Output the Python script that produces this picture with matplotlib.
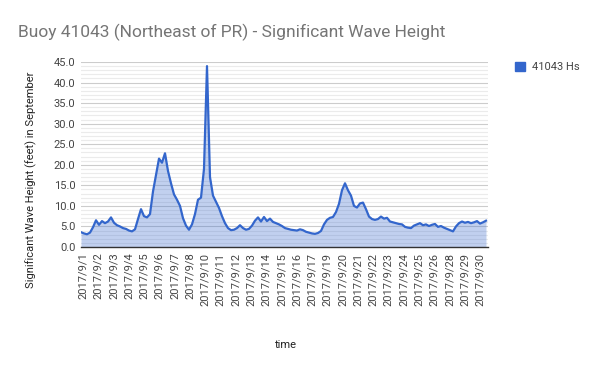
import numpy as np
import matplotlib
matplotlib.use("Agg")
import matplotlib.pyplot as plt
from matplotlib.patches import Patch

# Significant wave height readings (feet), evenly spaced samples through September
wave_height = [
    3.6, 3.3, 3.1, 3.5, 4.8, 6.5, 5.4, 6.3, 5.8, 6.2,
    7.2, 5.9, 5.3, 5.0, 4.6, 4.4, 4.0, 3.8, 4.3, 6.8,
    9.2, 7.5, 7.2, 8.0, 13.5, 17.5, 21.5, 20.5, 22.8, 18.5,
    15.5, 12.8, 11.5, 10.0, 7.0, 5.2, 4.2, 5.5, 8.0, 11.5,
    12.0, 19.0, 44.0, 17.0, 12.5, 11.0, 9.5, 7.5, 5.8, 4.6,
    4.1, 4.2, 4.6, 5.3, 4.6, 4.2, 4.4, 5.2, 6.4, 7.2,
    6.2, 7.3, 6.3, 6.9, 6.1, 5.8, 5.5, 5.1, 4.6, 4.4,
    4.2, 4.1, 4.0, 4.3, 4.1, 3.7, 3.5, 3.3, 3.2, 3.4,
    3.9, 5.5, 6.6, 7.1, 7.3, 8.5, 10.5, 13.8, 15.5, 13.8,
    12.5, 10.0, 9.6, 10.6, 10.8, 9.2, 7.4, 6.8, 6.6, 6.8,
    7.4, 6.9, 7.1, 6.2, 6.0, 5.8, 5.6, 5.5, 4.9, 4.7,
    4.6, 5.2, 5.5, 5.8, 5.3, 5.5, 5.1, 5.4, 5.6, 4.9,
    5.1, 4.7, 4.4, 4.1, 3.8, 5.0, 5.8, 6.2, 5.9, 6.1,
    5.8, 6.0, 6.3, 5.7, 6.0, 6.4,
]

day_labels = [
    "2017/9/1", "2017/9/2", "2017/9/3", "2017/9/4", "2017/9/5", "2017/9/6",
    "2017/9/7", "2017/9/8", "2017/9/10", "2017/9/11", "2017/9/12", "2017/9/13",
    "2017/9/14", "2017/9/15", "2017/9/16", "2017/9/17", "2017/9/19", "2017/9/20",
    "2017/9/21", "2017/9/22", "2017/9/23", "2017/9/24", "2017/9/25", "2017/9/26",
    "2017/9/28", "2017/9/29", "2017/9/30",
]

LINE = "#3366cc"
FONT = "Roboto"

fig = plt.figure(figsize=(6, 3.71), dpi=100)
ax = fig.add_axes([81 / 600, 1 - 247 / 371, 407 / 600, 185 / 371])

x = np.arange(len(wave_height))
ax.fill_between(x, wave_height, 0, color=LINE, alpha=0.3, linewidth=0)
ax.plot(x, wave_height, color=LINE, linewidth=1.6)

ax.set_xlim(0, len(wave_height) - 0.33)
ax.set_ylim(0, 45)

# y grid: major every 5, minor every 1
ax.set_yticks(np.arange(0, 46, 5))
ax.set_yticks(np.arange(0, 46, 1), minor=True)
ax.set_yticklabels([f"{v:.1f}" for v in np.arange(0, 46, 5)],
                   fontsize=8, color="#444444", family=FONT)
ax.grid(axis="y", which="major", color="#cccccc", linewidth=0.8)
ax.grid(axis="y", which="minor", color="#ebebeb", linewidth=0.8)
ax.set_axisbelow(True)
ax.tick_params(axis="y", which="both", length=0, pad=4)

ticks = np.linspace(0.67, 133, len(day_labels))
ax.set_xticks(ticks)
ax.set_xticklabels(day_labels, rotation=90, fontsize=8, color="#444444", family=FONT)
ax.tick_params(axis="x", length=0, pad=4)

for s in ["top", "right", "left"]:
    ax.spines[s].set_visible(False)
ax.spines["bottom"].set_color("#333333")
ax.spines["bottom"].set_linewidth(1.0)

fig.text(18 / 600, 1 - 37 / 371, "Buoy 41043 (Northeast of PR) - Significant Wave Height",
         fontsize=12.5, color="#757575", family=FONT, va="baseline", ha="left")
fig.text(286 / 600, 1 - 345 / 371, "time", fontsize=8, color="#222222",
         family=FONT, ha="center", va="center")
fig.text(31 / 600, 1 - 180 / 371, "Significant Wave Height (feet) in September",
         fontsize=8, color="#222222", family=FONT, rotation=90,
         ha="center", va="center")

fig.legend(handles=[Patch(facecolor=LINE, edgecolor=LINE)], labels=["41043 Hs"],
           loc="upper left", bbox_to_anchor=(505 / 600, 1 - 52 / 371),
           frameon=False, handlelength=0.9, handleheight=0.9, handletextpad=0.6,
           prop={"family": FONT, "size": 8}, labelcolor="#444444")

fig.savefig("out.png", dpi=100)
